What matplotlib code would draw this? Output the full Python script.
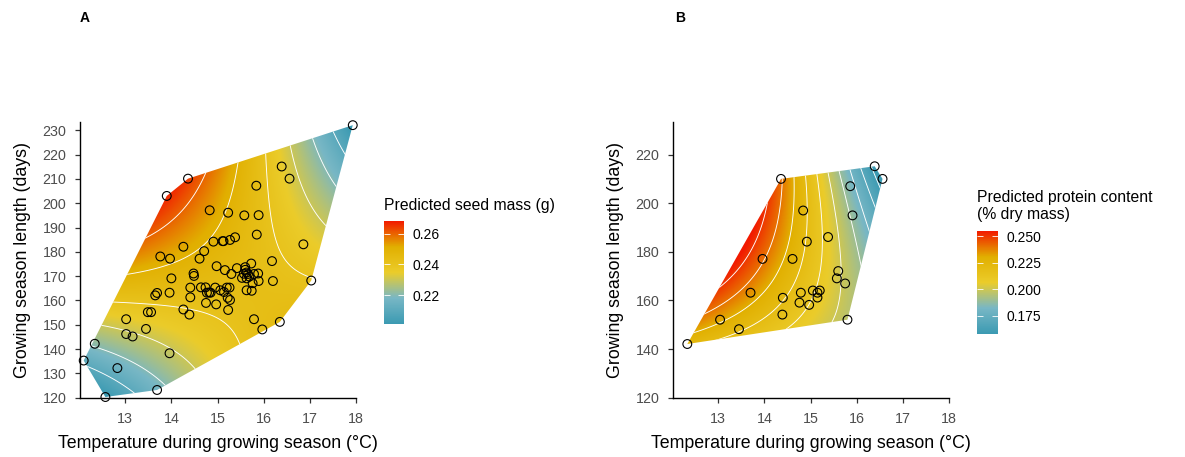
import numpy as np
import matplotlib
matplotlib.use("Agg")
import matplotlib.pyplot as plt
from matplotlib.colors import LinearSegmentedColormap, Normalize
from matplotlib.patches import Polygon

plt.rcParams['font.family'] = ['Liberation Sans', 'DejaVu Sans']

# ---------------- data ----------------
temp_a = [17.93, 12.10, 12.34, 12.57, 13.69, 12.83, 13.96, 13.02, 13.02, 13.16,
          13.45, 13.49, 13.56, 13.65, 13.69, 13.76, 13.97, 14.00, 13.96, 14.26,
          14.39, 14.41, 14.41, 14.48, 14.49, 14.26, 13.90, 14.36, 14.61, 14.71,
          14.83, 14.91, 14.64, 14.74, 14.75, 14.77, 14.82, 14.85, 14.95, 14.97,
          14.98, 15.06, 15.13, 15.14, 15.16, 15.20, 15.22, 15.23, 15.23, 15.26,
          15.27, 15.27, 15.30, 15.38, 15.42, 15.53, 15.58, 15.60, 15.60, 15.63,
          15.63, 15.63, 15.66, 15.69, 15.73, 15.74, 15.76, 15.79, 15.79, 15.84,
          15.85, 15.88, 15.89, 15.89, 15.97, 16.18, 16.20, 16.35, 16.39, 16.56,
          16.86, 17.03, 15.11, 15.57]
days_a = [232.1, 135.3, 142.2, 120.3, 123.2, 132.2, 138.3, 152.3, 146.2, 145.2,
          148.3, 155.2, 155.2, 162.1, 163.1, 178.1, 177.2, 169.1, 163.2, 156.3,
          154.2, 161.3, 165.3, 171.1, 170.1, 182.1, 203.0, 210.1, 177.2, 180.3,
          197.1, 184.2, 165.4, 165.4, 159.0, 163.2, 163.3, 163.2, 165.3, 158.4,
          174.1, 164.2, 184.4, 163.5, 172.5, 165.3, 161.1, 156.1, 196.1, 165.3,
          184.9, 160.2, 170.9, 186.0, 173.3, 169.3, 195.0, 172.6, 173.7, 171.5,
          164.2, 169.1, 170.9, 169.8, 175.2, 164.0, 167.1, 170.9, 152.3, 207.2,
          187.1, 171.1, 195.1, 168.0, 148.1, 176.2, 168.0, 151.2, 215.1, 210.1,
          183.1, 168.2, 184.4, 171.0]

temp_b = [12.33, 13.04, 13.45, 13.70, 13.96, 14.36, 14.39, 14.40, 14.61, 14.76,
          14.79, 14.84, 14.92, 14.97, 15.05, 15.15, 15.15, 15.20, 15.38, 15.57,
          15.60, 15.75, 15.80, 15.86, 15.91, 16.39, 16.56]
days_b = [142.1, 152.1, 148.2, 163.2, 177.1, 210.0, 154.2, 161.1, 177.1, 159.1,
          163.2, 197.0, 184.2, 158.2, 164.1, 163.2, 161.2, 164.1, 186.1, 169.1,
          172.1, 167.0, 152.1, 207.0, 195.0, 215.2, 210.0]

# predicted surface A: value = intercept - slope * (T - T0) * (L - L0)
coef_a = [0.2425, 0.000300, 15.9, 162.0]

# predicted surface B: values (T, L, value),
# smoothed with a second-order surface
anchor_t_b = [14.34, 14.66, 14.88, 15.10, 15.35, 15.60, 15.86, 16.11, 16.33,
              12.42, 12.52, 12.67, 12.96, 13.55, 14.08,
              13.60, 14.88, 15.80, 16.10, 16.56]
anchor_l_b = [210.0, 210.9, 211.5, 212.0, 212.7, 213.3, 213.9, 214.5, 215.0,
              142.8, 147.0, 153.2, 162.5, 180.0, 198.0,
              145.8, 150.4, 152.1, 175.0, 210.0]
anchor_v_b = [0.240, 0.230, 0.220, 0.210, 0.200, 0.190, 0.180, 0.170, 0.160,
              0.220, 0.230, 0.240, 0.250, 0.2547, 0.250,
              0.215, 0.210, 0.198, 0.183, 0.158]

fill_lim_a = [0.201, 0.2685]
fill_lim_b = [0.158, 0.2547]
levels_a = [0.21, 0.22, 0.23, 0.24, 0.25, 0.26]
levels_b = [0.16, 0.17, 0.18, 0.19, 0.20, 0.21, 0.22, 0.23, 0.24, 0.25]
cbar_ticks_a = [0.22, 0.24, 0.26]
cbar_labels_a = ['0.22', '0.24', '0.26']
cbar_ticks_b = [0.175, 0.200, 0.225, 0.250]
cbar_labels_b = ['0.175', '0.200', '0.225', '0.250']

xticks = [13, 14, 15, 16, 17, 18]
yticks_a = [120, 130, 140, 150, 160, 170, 180, 190, 200, 210, 220, 230]
yticks_b = [120, 140, 160, 180, 200, 220]

zissou = ["#3B9AB2", "#78B7C5", "#EBCC2A", "#E1AF00", "#F21A00"]
cmap = LinearSegmentedColormap.from_list("zissou", zissou, N=256)

W, H = 1185, 457
fig = plt.figure(figsize=(W / 100, H / 100), dpi=100)

XLIM = (12.02, 18.0)
YLIM = (119.9, 233.4)
TG = np.linspace(XLIM[0], XLIM[1], 500)
LG = np.linspace(YLIM[0], YLIM[1], 500)
TT, LL = np.meshgrid(TG, LG)


def px_axes(left, top, right, bottom):
    return fig.add_axes([left / W, (H - bottom) / H, (right - left) / W, (bottom - top) / H])


def hull(xs, ys):
    pts = sorted(set(zip(xs, ys)))

    def cross(o, a, b):
        return (a[0] - o[0]) * (b[1] - o[1]) - (a[1] - o[1]) * (b[0] - o[0])
    lower, upper = [], []
    for p in pts:
        while len(lower) >= 2 and cross(lower[-2], lower[-1], p) <= 0:
            lower.pop()
        lower.append(p)
    for p in reversed(pts):
        while len(upper) >= 2 and cross(upper[-2], upper[-1], p) <= 0:
            upper.pop()
        upper.append(p)
    return lower[:-1] + upper[:-1]


def quad_design(t, l):
    t = (np.asarray(t) - 15.0)
    l = (np.asarray(l) - 180.0) / 10.0
    return np.stack([np.ones_like(t), t, l, t * t, l * l, t * l], axis=-1)


def surface_a():
    return coef_a[0] - coef_a[1] * (TT - coef_a[2]) * (LL - coef_a[3])


def surface_b():
    X = quad_design(anchor_t_b, anchor_l_b)
    beta, *_ = np.linalg.lstsq(X, np.asarray(anchor_v_b), rcond=None)
    return quad_design(TT, LL) @ beta


def panel(ax, tx, dy, Z, lim, levels, yticks):
    poly = Polygon(hull(tx, dy), closed=True, transform=ax.transData,
                   facecolor='none', edgecolor='none')
    ax.add_patch(poly)
    norm = Normalize(lim[0], lim[1])
    im = ax.imshow(Z, extent=(XLIM[0], XLIM[1], YLIM[0], YLIM[1]), origin='lower',
                   aspect='auto', cmap=cmap, norm=norm, interpolation='bilinear', zorder=1)
    im.set_clip_path(poly)
    cs = ax.contour(TT, LL, Z, levels=levels, colors='white', linewidths=0.65, zorder=2)
    cs.set_clip_path(poly)
    ax.scatter(tx, dy, s=40, facecolors='none', edgecolors='black', linewidths=0.8,
               zorder=3, clip_on=False)
    ax.set_xlim(*XLIM)
    ax.set_ylim(*YLIM)
    ax.set_xticks(xticks)
    ax.set_yticks(yticks)
    for s in ['top', 'right']:
        ax.spines[s].set_visible(False)
    for s in ['left', 'bottom']:
        ax.spines[s].set_linewidth(1.0)
        ax.spines[s].set_color('black')
    ax.tick_params(axis='both', length=3.8, width=0.9, color='#333333',
                   labelcolor='#4D4D4D', labelsize=10.3, pad=6)
    ax.set_xlabel('Temperature during growing season (°C)', fontsize=12.8, labelpad=6.5)
    ax.set_ylabel('Growing season length (days)', fontsize=12.8, labelpad=8)
    return im


def cbar(im, left, top, right, bottom, ticks, labels, title, title_y):
    cax = px_axes(left, top, right, bottom)
    cb = fig.colorbar(im, cax=cax)
    cb.outline.set_visible(False)
    cb.set_ticks(ticks)
    cb.set_ticklabels(labels)
    cax.tick_params(direction='in', color='white', length=4, width=0.6,
                    left=True, right=True, labelsize=10, pad=6)
    fig.text(left / W, 1 - title_y / H, title, fontsize=11.3, va='bottom', ha='left',
             linespacing=1.15)


axA = px_axes(80, 122, 356, 398)
imA = panel(axA, temp_a, days_a, surface_a(), fill_lim_a, levels_a, yticks_a)
cbar(imA, 384, 221, 404, 324, cbar_ticks_a, cbar_labels_a, 'Predicted seed mass (g)', 213)

axB = px_axes(673, 122, 949, 398)
imB = panel(axB, temp_b, days_b, surface_b(), fill_lim_b, levels_b, yticks_b)
cbar(imB, 977, 231, 998, 334, cbar_ticks_b, cbar_labels_b,
     'Predicted protein content\n(% dry mass)', 222)

fig.text(80 / W, 1 - 18 / H, 'A', fontsize=10, fontweight='bold', va='center', ha='left')
fig.text(675 / W, 1 - 18 / H, 'B', fontsize=10, fontweight='bold', va='center', ha='left')

fig.savefig('out.png', dpi=100)
